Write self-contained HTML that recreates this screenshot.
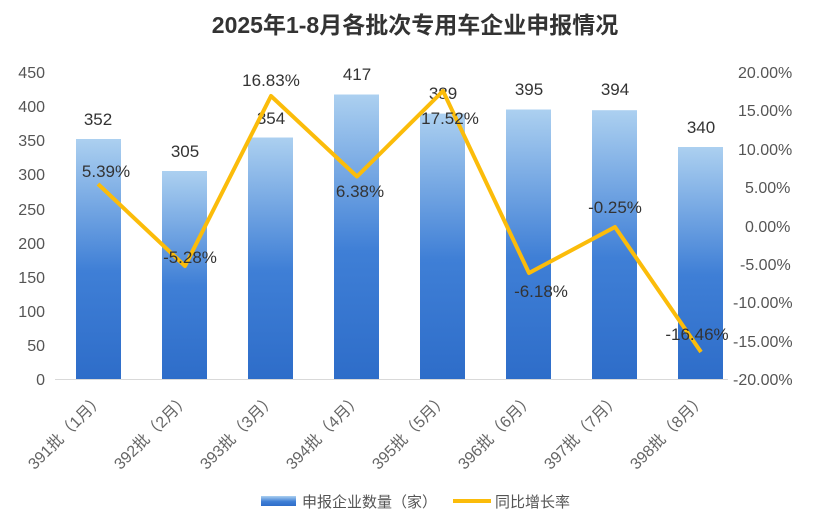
<!DOCTYPE html><html><head><meta charset="utf-8"><style>body{margin:0;background:#fff}svg text{font-family:"Liberation Sans","Noto Sans CJK SC",sans-serif}</style></head><body>
<svg width="830" height="520" viewBox="0 0 830 520">
<defs><linearGradient id="g" x1="0" y1="0" x2="0" y2="1"><stop offset="0" stop-color="#acd0f0"/><stop offset="0.55" stop-color="#3f7fd6"/><stop offset="1" stop-color="#2e6dc9"/></linearGradient></defs>
<text x="415" y="33" font-size="23" font-weight="bold" text-anchor="middle" fill="#333">2025年1-8月各批次专用车企业申报情况</text>
<g font-size="16" fill="#555" text-anchor="end">
<text x="45" y="78">450</text><text x="45" y="112">400</text><text x="45" y="146">350</text><text x="45" y="180">300</text><text x="45" y="215">250</text><text x="45" y="249">200</text><text x="45" y="283">150</text><text x="45" y="317">100</text><text x="45" y="351">50</text><text x="45" y="385">0</text></g>
<g font-size="16" fill="#555" text-anchor="start">
<text x="738" y="78">20.00%</text><text x="738" y="116">15.00%</text><text x="738" y="155">10.00%</text><text x="745" y="193">5.00%</text><text x="745" y="232">0.00%</text><text x="740" y="270">-5.00%</text><text x="733" y="308">-10.00%</text><text x="733" y="347">-15.00%</text><text x="733" y="385">-20.00%</text></g>
<line x1="55" y1="379.5" x2="728" y2="379.5" stroke="#d9d9d9"/>
<g fill="url(#g)">
<rect x="76" y="139" width="45" height="240"/><rect x="162" y="171" width="45" height="208"/><rect x="248" y="137.5" width="45" height="241.5"/><rect x="334" y="94.5" width="45" height="284.5"/><rect x="420" y="113.6" width="45" height="265.4"/><rect x="506" y="109.5" width="45" height="269.5"/><rect x="592" y="110.2" width="45" height="268.8"/><rect x="678" y="147" width="45" height="232"/></g>
<g font-size="17" fill="#333" text-anchor="middle">
<text x="98" y="125">352</text><text x="185" y="157">305</text><text x="271" y="124">354</text><text x="357" y="80">417</text><text x="443" y="99">389</text><text x="529" y="95">395</text><text x="615" y="95">394</text><text x="701" y="133">340</text></g>
<polyline points="98,184 185,266 271,96 357,176.5 443,91 529,273 615,227 701,352" fill="none" stroke="#fbbc0a" stroke-width="4" stroke-linejoin="round"/>
<g font-size="17" fill="#333" text-anchor="middle">
<text x="106" y="177">5.39%</text><text x="190" y="263">-5.28%</text><text x="271" y="86">16.83%</text><text x="360" y="197">6.38%</text><text x="450" y="124">17.52%</text><text x="541" y="297">-6.18%</text><text x="615" y="213">-0.25%</text><text x="697" y="340">-16.46%</text></g>
<g font-size="16" fill="#666" text-anchor="end">
<text transform="translate(105,400) rotate(-45)">391批（1月）</text><text transform="translate(191,400) rotate(-45)">392批（2月）</text><text transform="translate(277,400) rotate(-45)">393批（3月）</text><text transform="translate(363,400) rotate(-45)">394批（4月）</text><text transform="translate(449,400) rotate(-45)">395批（5月）</text><text transform="translate(535,400) rotate(-45)">396批（6月）</text><text transform="translate(621,400) rotate(-45)">397批（7月）</text><text transform="translate(707,400) rotate(-45)">398批（8月）</text></g>
<rect x="261" y="496" width="35" height="10" fill="url(#g)"/>
<text x="302" y="507" font-size="15" fill="#555">申报企业数量（家）</text>
<line x1="453" y1="501" x2="491" y2="501" stroke="#fbbc0a" stroke-width="4"/>
<text x="495" y="507" font-size="15" fill="#555">同比增长率</text>
</svg></body></html>
